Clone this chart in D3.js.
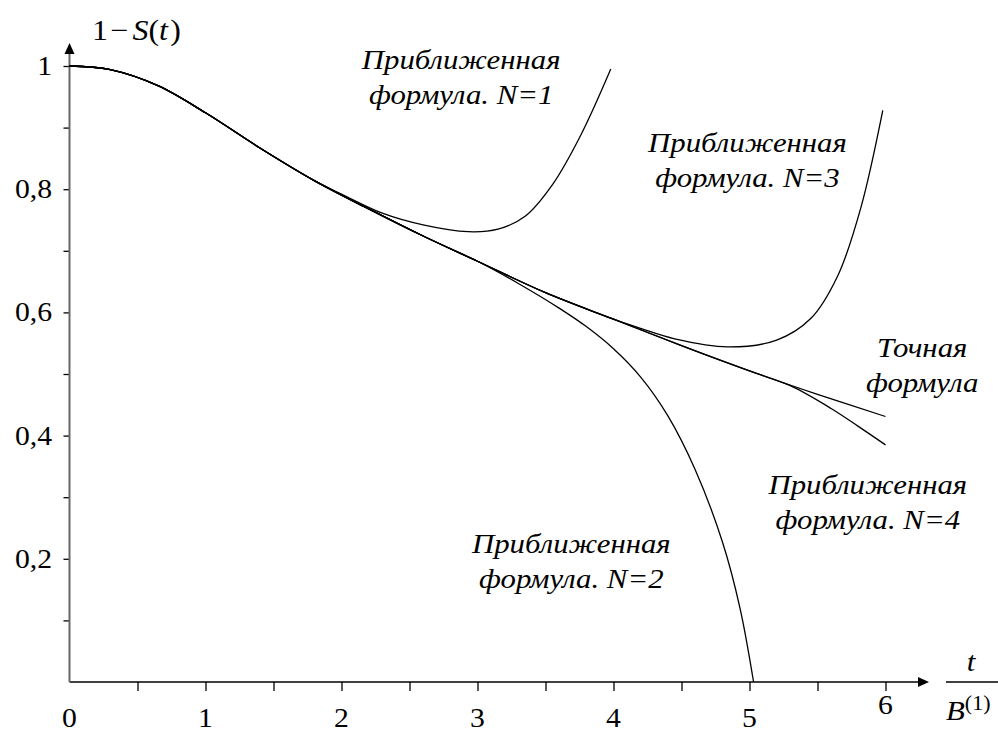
<!DOCTYPE html>
<html>
<head>
<meta charset="utf-8">
<script src="https://cdn.jsdelivr.net/npm/d3@7"></script>
<style>
body { margin: 0; background: #fff; }
</style>
</head>
<body>
<svg id="chart" width="998" height="733"></svg>
<script>
// values (t / B(1) , 1 - S(t))
var exactT = [0, 0.3, 0.65, 1.0, 1.4, 1.8, 2.2, 2.6, 3.0, 3.5, 4.0, 4.5, 5.0, 5.5, 6.0];
var exactV = [1.0, 0.994, 0.968, 0.924, 0.867, 0.814, 0.768, 0.724, 0.683, 0.632, 0.589, 0.546, 0.505, 0.467, 0.431];

var n1T = [0, 0.3, 0.65, 1.0, 1.4, 1.8, 2.0, 2.3, 2.6, 2.93, 3.15, 3.35, 3.55, 3.76, 3.98];
var n1V = [1.0, 0.994, 0.968, 0.924, 0.867, 0.814, 0.792, 0.761, 0.742, 0.731, 0.735, 0.756, 0.807, 0.888, 0.995];

var n2T = [0, 0.3, 0.65, 1.0, 1.4, 1.8, 2.2, 2.6, 3.0, 3.3, 3.6, 3.8, 4.0, 4.2, 4.4, 4.6, 4.8, 4.93, 5.03];
var n2V = [1.0, 0.994, 0.968, 0.924, 0.867, 0.814, 0.768, 0.724, 0.683, 0.647, 0.607, 0.577, 0.541, 0.495, 0.432, 0.345, 0.228, 0.12, 0.0];

var n3T = [0, 0.3, 0.65, 1.0, 1.4, 1.8, 2.2, 2.6, 3.0, 3.5, 4.0, 4.2, 4.45, 4.84, 5.2, 5.45, 5.65, 5.82, 5.98];
var n3V = [1.0, 0.994, 0.968, 0.924, 0.867, 0.814, 0.768, 0.724, 0.683, 0.632, 0.589, 0.574, 0.557, 0.544, 0.555, 0.59, 0.66, 0.771, 0.928];

var n4T = [0, 0.3, 0.65, 1.0, 1.4, 1.8, 2.2, 2.6, 3.0, 3.5, 4.0, 4.5, 5.0, 5.3, 5.6, 5.8, 6.0];
var n4V = [1.0, 0.994, 0.968, 0.924, 0.867, 0.814, 0.768, 0.724, 0.683, 0.632, 0.589, 0.546, 0.505, 0.481, 0.444, 0.415, 0.385];

var xTickLabels = [0, 1, 2, 3, 4, 5, 6];
var yTickLabels = [0.2, 0.4, 0.6, 0.8, 1];

var curveLabels = [
  {lines: ["Приближенная", "формула. N=1"], t: 2.88, v: 0.995},
  {lines: ["Приближенная", "формула. N=3"], t: 4.985, v: 0.86},
  {lines: ["Точная", "формула"], t: 6.27, v: 0.528},
  {lines: ["Приближенная", "формула. N=4"], t: 5.87, v: 0.305},
  {lines: ["Приближенная", "формула. N=2"], t: 3.69, v: 0.21}
];

var serif = "'Liberation Serif', 'Times New Roman', Tinos, 'Nimbus Roman', 'DejaVu Serif', serif";
var widen = 1.1;  // the type in the picture is a little wider than Times

var svg = d3.select("#chart")
    .attr("font-family", serif);

// stretch a text horizontally about its own anchor point
function stretch(sel, px, py) {
  sel.attr("transform", "translate(" + px + "," + py + ") scale(" + widen + ",1) translate(" + (-px) + "," + (-py) + ")");
}

var x = d3.scaleLinear().domain([0, 6]).range([69.5, 885.5]);
var y = d3.scaleLinear().domain([0, 1]).range([682, 66]);

// x axis: ticks every 0.5
var xAxis = svg.append("g")
    .attr("transform", "translate(0," + y(0) + ")")
    .call(d3.axisBottom(x).tickValues(d3.range(0.5, 6.01, 0.5)).tickSize(9).tickFormat(""));
xAxis.select(".domain").remove();
xAxis.selectAll("line").attr("stroke", "#000").attr("stroke-width", 1.3);

svg.append("line")
    .attr("x1", x(0)).attr("x2", 920)
    .attr("y1", y(0)).attr("y2", y(0))
    .attr("stroke", "#000").attr("stroke-width", 1.5);
svg.append("path")
    .attr("d", "M929," + y(0) + "L918," + (y(0) - 5) + "L918," + (y(0) + 5) + "Z")
    .attr("fill", "#000");

// y axis: ticks every 0.1
var yAxis = svg.append("g")
    .attr("transform", "translate(" + x(0) + ",0)")
    .call(d3.axisLeft(y).tickValues(d3.range(0.1, 1.01, 0.1)).tickSize(6).tickFormat(""));
yAxis.select(".domain").remove();
yAxis.selectAll("line").attr("stroke", "#000").attr("stroke-width", 1.3);

svg.append("line")
    .attr("x1", x(0)).attr("x2", x(0))
    .attr("y1", y(0)).attr("y2", 52)
    .attr("stroke", "#666").attr("stroke-width", 2);
svg.append("path")
    .attr("d", "M" + x(0) + ",43L" + (x(0) - 5) + ",54L" + (x(0) + 5) + ",54Z")
    .attr("fill", "#000");

// tick labels
xTickLabels.forEach(function(d) {
  var px = x(d), py = d == 6 ? 714 : 727;
  svg.append("text")
      .attr("x", px).attr("y", py)
      .attr("text-anchor", "middle")
      .style("font-size", "27px")
      .text(d)
      .call(stretch, px, py);
});

yTickLabels.forEach(function(d) {
  var px = 52, py = y(d) + 9;
  svg.append("text")
      .attr("x", px).attr("y", py)
      .attr("text-anchor", "end")
      .style("font-size", "27px")
      .text(d == 1 ? "1" : d3.format(".1f")(d).replace(".", ","))
      .call(stretch, px, py);
});

// axis titles
var yTitle = svg.append("text")
    .attr("x", 92).attr("y", 40)
    .style("font-size", "29px")
    .call(stretch, 92, 40);
yTitle.append("tspan").text("1");
yTitle.append("tspan").attr("dx", 2).text("−");
yTitle.append("tspan").attr("dx", 4).style("font-style", "italic").text("S");
yTitle.append("tspan").text("(");
yTitle.append("tspan").style("font-style", "italic").text("t");
yTitle.append("tspan").attr("dx", 2).text(")");

svg.append("line")
    .attr("x1", 946).attr("x2", 998)
    .attr("y1", y(0)).attr("y2", y(0))
    .attr("stroke", "#000").attr("stroke-width", 1.3);
svg.append("text")
    .attr("x", 971).attr("y", 671)
    .attr("text-anchor", "middle")
    .style("font-size", "28px").style("font-style", "italic")
    .text("t")
    .call(stretch, 971, 671);
var bTitle = svg.append("text")
    .attr("x", 946).attr("y", 720)
    .style("font-size", "28px")
    .call(stretch, 946, 720);
bTitle.append("tspan").style("font-style", "italic").text("B");
bTitle.append("tspan").attr("dy", -10).style("font-size", "20px").text("(1)");

// curves
var line = d3.line()
    .x(function(d) { return x(d[0]); })
    .y(function(d) { return y(d[1]); })
    .curve(d3.curveCatmullRom);

[[n1T, n1V], [n2T, n2V], [n3T, n3V], [n4T, n4V], [exactT, exactV]].forEach(function(s) {
  svg.append("path")
      .datum(d3.zip(s[0], s[1]))
      .attr("fill", "none")
      .attr("stroke", "#000")
      .attr("stroke-width", 1.3)
      .attr("d", line);
});

// curve annotations
curveLabels.forEach(function(c) {
  var px = x(c.t), py = y(c.v);
  var t = svg.append("text")
      .attr("x", px).attr("y", py)
      .attr("text-anchor", "middle")
      .style("font-size", "28px").style("font-style", "italic")
      .call(stretch, px, py);
  c.lines.forEach(function(l, i) {
    t.append("tspan")
        .attr("x", px)
        .attr("dy", i == 0 ? 0 : 35)
        .text(l);
  });
});
</script>
</body>
</html>
